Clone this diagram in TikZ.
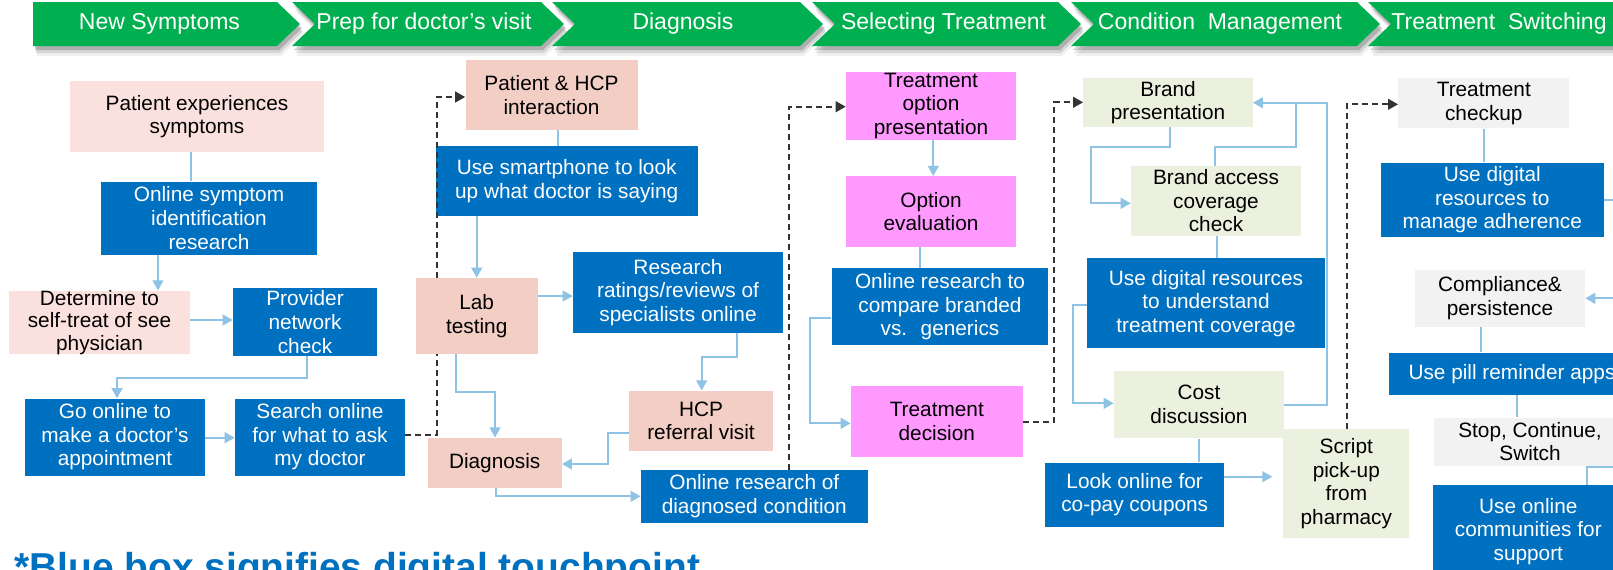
\documentclass[tikz,border=0pt]{standalone}
\usepackage{fontspec}
\setmainfont{Liberation Sans}
\usetikzlibrary{arrows.meta}
\definecolor{cgreen}{HTML}{00B050}
\definecolor{cblue}{HTML}{0070C0}
\definecolor{cpinkL}{HTML}{FBE1DD}
\definecolor{csalmon}{HTML}{F2CEC4}
\definecolor{cmag}{HTML}{FF99FF}
\definecolor{cgrn}{HTML}{EBF1DE}
\definecolor{cgray}{HTML}{F2F2F2}
\definecolor{cline}{HTML}{8EC3E6}
\definecolor{cdash}{HTML}{333333}
\newcommand\boxfont{\fontsize{15.6pt}{17.7pt}\selectfont}
\newcommand\tightfont{\fontsize{15.6pt}{16.6pt}\selectfont}
\newcommand\chevfont{\fontsize{17.25pt}{20pt}\selectfont}
\newcommand\chevshape[3]{\fill[#3] (#1,2) -- (#2,2) -- (#2+23,24) -- (#2,46) -- (#1,46) -- (#1+23,24) -- cycle;}
\newcommand\chevshadow[2]{%
  \chevshape{#1}{#2}{black,opacity=.18,shift={(2,4)}}%
  \chevshape{#1}{#2}{black,opacity=.11,shift={(3,7)}}%
  \chevshape{#1}{#2}{black,opacity=.06,shift={(4,10)}}}
\begin{document}
\begin{tikzpicture}[x=0.75pt,y=-0.75pt,
  bx/.style 2 args={minimum width=#1*0.75pt, minimum height=#2*0.75pt},
  base/.style={inner sep=0pt, align=center, font=\boxfont, text=black},
  pinkbox/.style={base, fill=cpinkL},
  salbox/.style={base, fill=csalmon},
  bluebox/.style={base, fill=cblue, text=white},
  magbox/.style={base, fill=cmag},
  grnbox/.style={base, fill=cgrn},
  graybox/.style={base, fill=cgray},
  ln/.style={draw=cline, line width=1.5pt},
  arr/.style={ln, -{Triangle[length=7.5pt,width=8pt]}},
  dsh/.style={draw=cdash, line width=1.5pt, dash pattern=on 4.5pt off 3pt, -{Triangle[length=7.5pt,width=8pt]}},
  chevtext/.style={font=\chevfont, text=white, inner sep=0pt},
]
\useasboundingbox (0,0) rectangle (1613,569);
\clip (0,0) rectangle (1613,569);
\fill[white] (0,0) rectangle (1613,569);

% ---- banner ----
\fill[black,opacity=.18,shift={(2,4)}] (33,2) -- (277,2) -- (300,24) -- (277,46) -- (33,46) -- cycle;
\fill[black,opacity=.11,shift={(3,7)}] (33,2) -- (277,2) -- (300,24) -- (277,46) -- (33,46) -- cycle;
\fill[black,opacity=.06,shift={(4,10)}] (33,2) -- (277,2) -- (300,24) -- (277,46) -- (33,46) -- cycle;
\chevshadow{292}{541}
\chevshadow{552}{800}
\chevshadow{812}{1058}
\chevshadow{1071}{1357}
\chevshadow{1368}{1700}
\fill[cgreen] (33,2) -- (277,2) -- (300,24) -- (277,46) -- (33,46) -- cycle;
\chevshape{292}{541}{cgreen}
\chevshape{552}{800}{cgreen}
\chevshape{812}{1058}{cgreen}
\chevshape{1071}{1357}{cgreen}
\chevshape{1368}{1700}{cgreen}
\node[chevtext] (c1) at (159.5,24) {New Symptoms};
\node[chevtext] (c2) at (424,24) {Prep for doctor’s visit};
\node[chevtext] (c3) at (683,24) {Diagnosis};
\node[chevtext] (c4) at (943.5,24) {Selecting Treatment};
\node[chevtext] (c5) at (1220,24) {Condition~~Management};
\node[chevtext] (c6) at (1499,24) {Treatment~~Switching};

% ---- nodes ----
\node[pinkbox, bx={254}{71}] (pexp) at (197,116.5) {Patient experiences\\symptoms};
\node[bluebox, bx={216}{73}] (osym) at (209,218) {Online symptom\\identification\\research};
\node[pinkbox, bx={181}{63}, font=\tightfont] (det) at (99.5,322.5) {Determine to\\self-treat of see\\physician};
\node[bluebox, bx={144}{68}] (prov) at (305,322) {Provider\\network\\check};
\node[bluebox, bx={180}{77}] (goon) at (115,437) {Go online to\\make a doctor’s\\appointment};
\node[bluebox, bx={170}{77}] (srch) at (320,437) {Search online\\for what to ask\\my doctor};
\node[salbox, bx={172}{70}] (phcp) at (551.5,95) {Patient \& HCP\\interaction};
\node[bluebox, bx={262}{70}] (smart) at (566.7,181) {Use smartphone to look\\up what doctor is saying};
\node[salbox, bx={122}{76}] (lab) at (476.7,316) {Lab\\testing};
\node[bluebox, bx={210}{81}] (rsrch) at (678,292.3) {Research\\ratings/reviews of\\specialists online};
\node[salbox, bx={144}{60}] (hcpr) at (701,420.7) {HCP\\referral visit};
\node[salbox, bx={134}{50}] (diag) at (494.7,462.7) {Diagnosis};
\node[bluebox, bx={226.7}{52.7}] (ordc) at (754.3,496.3) {Online research of\\diagnosed condition};
\node[magbox, bx={170}{68.3}] (topt) at (931,105.8) {Treatment\\option\\presentation};
\node[magbox, bx={170}{71}] (oeval) at (931,211.7) {Option\\evaluation};
\node[bluebox, bx={216.7}{76.7}] (ocmp) at (940,306.7) {Online research to\\compare branded\\vs.~ generics};
\node[magbox, bx={171.7}{70.7}] (tdec) at (936.8,421.3) {Treatment\\decision};
\node[grnbox, bx={169.3}{48.3}] (bpres) at (1168,102.5) {Brand\\presentation};
\node[grnbox, bx={170}{69.7}] (bacc) at (1216,200.8) {Brand access\\coverage\\check};
\node[bluebox, bx={238.3}{90}] (udig) at (1206,303.3) {Use digital resources\\to understand\\treatment coverage};
\node[grnbox, bx={170}{67.7}] (cost) at (1199,404.5) {Cost\\discussion};
\node[bluebox, bx={178.7}{64}] (look) at (1134.7,494.7) {Look online for\\co-pay coupons};
\node[grnbox, bx={126}{108.3}] (script) at (1346.3,483.5) {Script\\pick-up\\from\\pharmacy};
\node[graybox, bx={171}{50}] (tchk) at (1483.8,103.3) {Treatment\\checkup};
\node[bluebox, bx={223.3}{74.7}] (uadh) at (1492.3,200) {Use digital\\resources to\\manage adherence};
\node[graybox, bx={170}{56.7}] (comp) at (1500,298.3) {Compliance\&\\persistence};
\node[bluebox, bx={245.4}{42.3}] (pill) at (1512,373.8) {Use pill reminder apps};
\node[graybox, bx={192}{48}] (stop) at (1530,441.7) {Stop, Continue,\\Switch};
\node[bluebox, bx={191}{93}] (uonl) at (1528.3,531.5) {Use online\\communities for\\support};

\node[anchor=base west, inner sep=0pt, font=\fontsize{29.2pt}{35pt}\selectfont\bfseries, text=cblue] (note) at (14,580) {*Blue box signifies digital touchpoint};

% ---- connectors ----
\draw[ln] (pexp.south -| 191,0) -- (osym.north -| 191,0);
\draw[arr] (osym.south -| 158,0) -- (det.north -| 158,0);
\draw[arr] (det.east |- 0,320) -- (prov.west |- 0,320);
\draw[arr] (prov.south -| 306.5,0) |- (117,378) -- (goon.north -| 117,0);
\draw[arr] (goon.east |- 0,437.7) -- (srch.west |- 0,437.7);
\draw[dsh, -] (srch.east |- 0,435) -| (lab.south -| 436.6,0);
\draw[dsh] (lab.north -| 436.6,0) |- (phcp.west |- 0,97);
\draw[ln] (phcp.south -| 557.7,0) -- (smart.north -| 557.7,0);
\draw[arr] (smart.south -| 476.7,0) -- (lab.north -| 476.7,0);
\draw[arr] (lab.east |- 0,296) -- (rsrch.west |- 0,296);
\draw[arr] (rsrch.south -| 736.7,0) |- (701.7,357.3) -- (hcpr.north -| 701.7,0);
\draw[arr] (hcpr.west |- 0,433) -| (608,464) -- (diag.east |- 0,464);
\draw[arr] (lab.south -| 455.7,0) |- (495,391.7) -- (diag.north -| 495,0);
\draw[arr] (diag.south -| 495.7,0) |- (ordc.west);
\draw[dsh] (ordc.north -| 789.3,0) |- (topt.west |- 0,106.7);
\draw[arr] (topt.south -| 933.3,0) -- (oeval.north -| 933.3,0);
\draw[ln] (oeval.south -| 920,0) -- (ocmp.north -| 920,0);
\draw[arr] (ocmp.west |- 0,318.3) -| (810,423.3) -- (tdec.west |- 0,423.3);
\draw[dsh] (tdec.east |- 0,421.7) -| (1054.3,102.3) -- (bpres.west |- 0,102.3);
\draw[arr] (bpres.south -| 1170,0) |- (1090.7,147.3) |- (bacc.west |- 0,203.3);
\draw[ln] (bacc.north -| 1215,0) |- (1296,147.3) -- (1296,102.7);
\draw[ln] (bacc.south -| 1216.7,0) -- (udig.north -| 1216.7,0);
\draw[arr] (udig.west |- 0,305) -| (1073.3,403.3) -- (cost.west |- 0,403.3);
\draw[arr] (cost.east |- 0,405) -| (1326.7,102.7) -- (bpres.east |- 0,102.7);
\draw[ln] (cost.south -| 1199,0) -- (look.north -| 1199,0);
\draw[arr, shorten >=8pt] (look.east |- 0,476.7) -- (script.west |- 0,476.7);
\draw[dsh] (script.north -| 1346.7,0) |- (tchk.west |- 0,104.3);
\draw[ln] (tchk.south -| 1484.3,0) -- (uadh.north -| 1484.3,0);
\coordinate (eA) at (1625,200);
\coordinate (eB) at (1625,298.3);
\coordinate (eC) at (1625,466.7);
\draw[ln] (uadh.east |- 0,200) -- (eA);
\draw[arr] (eB) -- (comp.east |- 0,298.3);
\draw[ln] (comp.south -| 1481,0) -- (pill.north -| 1481,0);
\draw[ln] (pill.south -| 1517.3,0) -- (stop.north -| 1517.3,0);
\draw[ln] (uonl.north -| 1586.7,0) |- (eC);
\end{tikzpicture}
\end{document}
